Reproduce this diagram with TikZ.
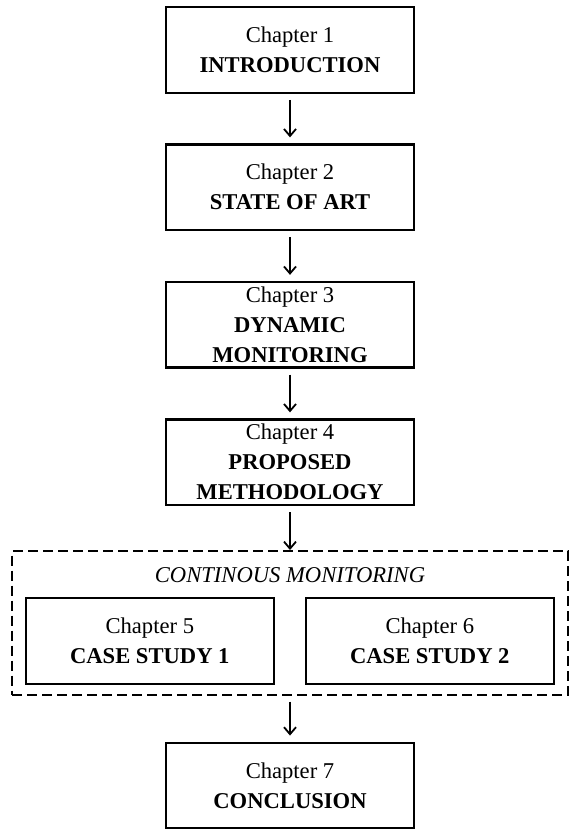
\documentclass[tikz,border=0pt]{standalone}
\usepackage{fontspec}
\setmainfont{Liberation Serif}
\usetikzlibrary{arrows.meta}
\tikzset{
    chapter/.style={rectangle,draw,line width=2.2pt,minimum width=248pt,minimum height=85.5pt,
        inner sep=0pt,align=center,font=\fontsize{22.6}{30}\selectfont},
    group/.style={rectangle,draw,dashed,dash pattern=on 10pt off 5pt,line width=2pt,
        minimum width=556pt,minimum height=143.5pt},
    flow/.style={->,> = {Straight Barb[length=7pt,width=12pt]},line width=1.8pt,
        shorten <=6pt,shorten >=6pt},
}

\begin{document}
\begin{tikzpicture}[x=1pt,y=-1pt]
    \useasboundingbox (0,0) rectangle (581,840);
    \node[chapter] (c1) at (290, 50.1) {Chapter 1\\\textbf{INTRODUCTION}};
    \node[chapter] (c2) at (290, 187.2) {Chapter 2\\\textbf{STATE OF ART}};
    \node[chapter] (c3) at (290, 324.7) {Chapter 3\\\textbf{DYNAMIC}\\\textbf{MONITORING}};
    \node[chapter] (c4) at (290, 462.2) {Chapter 4\\\textbf{PROPOSED}\\\textbf{METHODOLOGY}};
    % continuous monitoring block
    \node[group] (cm) at (290, 622.75) {};
    \node[font=\fontsize{22.6}{30}\selectfont\itshape] (cmlabel) at (290, 575.6) {CONTINOUS MONITORING};
    \node[chapter] (c5) at (149.8, 641) {Chapter 5\\\textbf{CASE STUDY 1}};
    \node[chapter] (c6) at (429.8, 641) {Chapter 6\\\textbf{CASE STUDY 2}};
    \node[chapter] (c7) at (290, 785.4) {Chapter 7\\\textbf{CONCLUSION}};
    \draw[flow] (c1) -- (c2);
    \draw[flow] (c2) -- (c3);
    \draw[flow] (c3) -- (c4);
    \draw[flow,shorten >=0pt] (c4) -- (cm);
    \draw[flow] (cm) -- (c7);
\end{tikzpicture}
\end{document}
